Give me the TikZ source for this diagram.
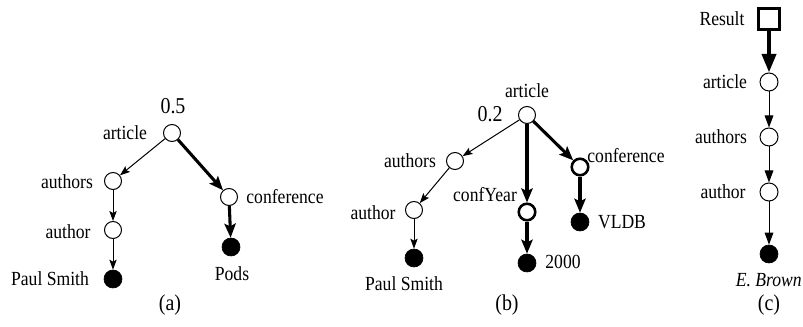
\documentclass[tikz,border=0pt]{standalone}
\usepackage{fontspec}
\setmainfont{Liberation Serif}
\newfontfamily\tfont[FakeStretch=0.88]{Liberation Serif}
\usetikzlibrary{arrows.meta}
\begin{document}
\begin{tikzpicture}[x=0.75pt,y=-0.75pt,
  nd/.style={circle,draw,line width=0.75pt,minimum size=12.75pt,inner sep=0pt},
  ndc/.style={circle,draw,line width=0.75pt,minimum size=13.5pt,inner sep=0pt},
  ndb/.style={circle,draw,line width=1.9pt,minimum size=12.4pt,inner sep=0pt},
  leaf/.style={circle,draw,fill,line width=0.5pt,minimum size=13.5pt,inner sep=0pt},
  sq/.style={rectangle,draw,line width=2.6pt,minimum size=15.4pt,inner sep=0pt},
  lbl/.style={font=\tfont\fontsize{15pt}{18pt}\selectfont,inner sep=0pt},
  big/.style={font=\tfont\fontsize{17pt}{20pt}\selectfont,inner sep=0pt},
  thinarr/.style={line width=0.75pt,-{Stealth[length=7.5pt,width=5.5pt,inset=1.5pt]}},
  thickarr/.style={line width=2.3pt,-{Stealth[length=10.5pt,width=8.5pt,inset=2pt]}},
  thinc/.style={line width=0.75pt,-{Triangle[length=9pt,width=6.5pt]}},
  thickc/.style={line width=3pt,-{Triangle[length=14pt,width=10.5pt]}},
]
\useasboundingbox (0,0) rectangle (803,327);
% ---------- (a)
\node[big] (sa) at (173,106) {0.5};
\node[nd] (a1) at (172,133) {};
\node[lbl] (a1l) at (125,133) {article};
\node[nd] (a2) at (113,181) {};
\node[lbl] (a2l) at (67,182) {authors};
\node[nd] (a3) at (229,197) {};
\node[lbl] (a3l) at (285,197) {conference};
\node[nd] (a4) at (113,230) {};
\node[lbl] (a4l) at (68,232) {author};
\node[leaf] (a5) at (113,279) {};
\node[lbl] (a5l) at (50,279) {Paul Smith};
\node[leaf] (a6) at (231,247) {};
\node[lbl] (a6l) at (232,274) {Pods};
\node[big] (ca) at (170,305) {(a)};
\draw[thinarr] (a1) -- (a2);
\draw[thickarr] (a1) -- (a3);
\draw[thinarr] (a2) -- (a4);
\draw[thinarr] (a4) -- (a5);
\draw[thickarr] (a3) -- (a6);
% ---------- (b)
\node[lbl] (b1l) at (527,91) {article};
\node[big] (sb) at (490,114) {0.2};
\node[nd] (b1) at (527,115) {};
\node[nd] (b2) at (455,161) {};
\node[lbl] (b2l) at (410,161) {authors};
\node[ndb] (b3) at (580,167) {};
\node[lbl] (b3l) at (626,156) {conference};
\node[ndb] (b4) at (527,212) {};
\node[lbl] (b4l) at (485,195) {confYear};
\node[nd] (b5) at (414,210) {};
\node[lbl] (b5l) at (373,213) {author};
\node[leaf] (b6) at (414,258) {};
\node[lbl] (b6l) at (404,284) {Paul Smith};
\node[leaf] (b7) at (527,263) {};
\node[lbl] (b7l) at (563,262) {2000};
\node[leaf] (b8) at (580,222) {};
\node[lbl] (b8l) at (622,222) {VLDB};
\node[big] (cb) at (507,305) {(b)};
\draw[thinarr] (b1) -- (b2);
\draw[thickarr] (b1) -- (b4);
\draw[thickarr] (b1) -- (b3);
\draw[thinarr] (b2) -- (b5);
\draw[thinarr] (b5) -- (b6);
\draw[thickarr] (b4) -- (b7);
\draw[thickarr] (b3) -- (b8);
% ---------- (c)
\node[sq] (c0) at (769,19) {};
\node[lbl] (c0l) at (722,19) {Result};
\node[ndc] (c1) at (769,82) {};
\node[lbl] (c1l) at (725,82) {article};
\node[ndc] (c2) at (769,137) {};
\node[lbl] (c2l) at (721,137) {authors};
\node[ndc] (c3) at (769,192) {};
\node[lbl] (c3l) at (723,192) {author};
\node[leaf] (c4) at (769,254) {};
\node[lbl,anchor=east,font=\tfont\fontsize{15pt}{18pt}\selectfont\itshape] (c4l) at (802,280) {E. Brown};
\node[big] (cc) at (769,305) {(c)};
\draw[thickc] (c0) -- (c1);
\draw[thinc] (c1) -- (c2);
\draw[thinc] (c2) -- (c3);
\draw[thinc] (c3) -- (c4);
\end{tikzpicture}
\end{document}
